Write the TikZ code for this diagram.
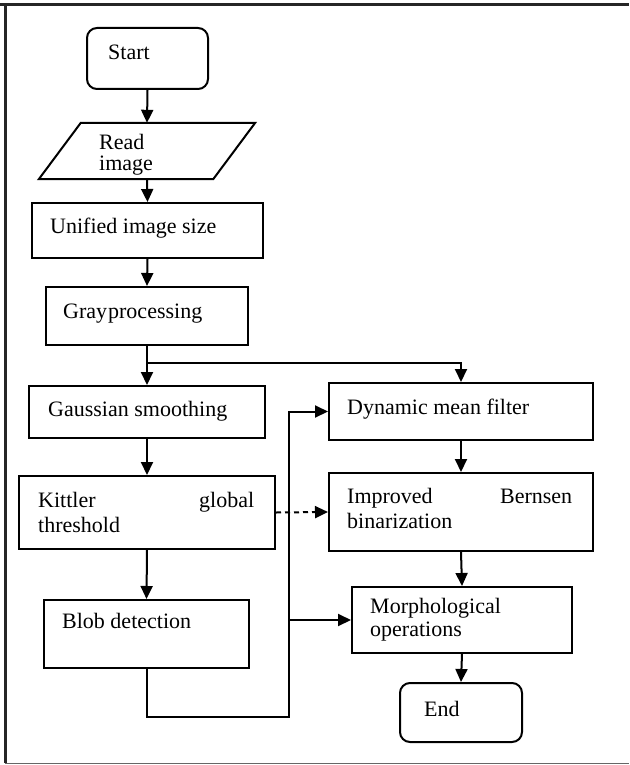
\documentclass[tikz,border=0pt]{standalone}
\usepackage{fontspec}
\setmainfont{Liberation Serif}
\usetikzlibrary{arrows.meta}
\newcommand\twoline[3]{\vtop{\baselineskip=#1\hbox{#2}\hbox{#3}}}
\begin{document}
\begin{tikzpicture}[x=1pt,y=-1pt,
  box/.style={draw, line width=2pt, inner sep=0pt},
  rbox/.style={box, rounded corners=10pt},
  lbl/.style={anchor=base west, inner sep=0pt, font=\fontsize{22}{24}\selectfont},
  arr/.style={line width=2pt, -{Triangle[length=13pt,width=12pt]}},
  dasharr/.style={arr, dash pattern=on 5pt off 4pt}]
\useasboundingbox (0,0) rectangle (629,765);
% frame
\draw[line width=3pt, black!85] (0,5) -- (629,5);
\draw[line width=2.5pt, black!85] (5.5,4) -- (5.5,763);
\draw[line width=1.2pt, black!60] (5,763.5) -- (629,763.5);

% boxes
\node[rbox, minimum width=121pt, minimum height=61pt] (start) at (147.5,58.5) {};
\node[inner sep=0pt, minimum width=132pt, minimum height=56pt] (read) at (147,151) {};
\draw[line width=2pt, line join=miter] (read.north west) -- ([xshift=42pt]read.north east) -- (read.south east) -- ([xshift=-42pt]read.south west) -- cycle;
\node[box, minimum width=231pt, minimum height=55pt] (unified) at (147.5,230.5) {};
\node[box, minimum width=202pt, minimum height=58pt] (gray) at (147,316) {};
\node[box, minimum width=236pt, minimum height=52pt] (gauss) at (147,412) {};
\node[box, minimum width=256pt, minimum height=73pt] (kittler) at (147,512.5) {};
\node[box, minimum width=205pt, minimum height=68pt] (blob) at (146.5,634) {};
\node[box, minimum width=264pt, minimum height=57pt] (dyn) at (461,411.5) {};
\node[box, minimum width=264pt, minimum height=78pt] (bern) at (461,512) {};
\node[box, minimum width=220pt, minimum height=66pt] (morph) at (462,620) {};
\node[rbox, minimum width=122pt, minimum height=59pt] (end) at (461,712.5) {};

% labels
\node[lbl] (tstart) at (108,60) {Start};
\node[lbl] (tread) at (99,149) {\twoline{21pt}{Read}{image}};
\node[lbl] (tunified) at (50,233) {Unified image size};
\node[lbl] (tgray) at (63,318) {Gray\hspace{1pt}processing};
\node[lbl] (tgauss) at (48,416) {Gaussian smoothing};
\node[lbl] (tkittler) at (38,507) {\twoline{25pt}{\hbox to 216pt{Kittler\hfill global}}{threshold}};
\node[lbl] (tblob) at (62,628) {Blob detection};
\node[lbl] (tdyn) at (347,414) {Dynamic mean filter};
\node[lbl] (tbern) at (347,503) {\twoline{25pt}{\hbox to 225pt{Improved\hfill Bernsen}}{binarization}};
\node[lbl] (tmorph) at (370,613) {\twoline{23pt}{Morphological}{operations}};
\node[lbl] (tend) at (424,716) {End};

% connectors
\coordinate (branch) at (147,363);
\coordinate (busbot) at (289,717);
\coordinate (busmid) at (289,620);
\draw[arr] (start.south) -- (read.north);
\draw[arr] (read.south) -- (unified.north);
\draw[arr] (unified.south) -- (gray.north);
\draw[arr] (gray.south) -- (gauss.north);
\draw[arr] (branch) -| (dyn.north);
\draw[arr] (gauss.south) -- (kittler.north);
\draw[arr] (kittler.south) -- (blob.north);
\draw[arr] (blob.south) |- (busbot) |- (dyn.west);
\draw[arr] (busmid) -- (morph.west);
\draw[dasharr] (kittler.east) -- (bern.west);
\draw[arr] (dyn.south) -- (bern.north);
\draw[arr] (bern.south) -- (morph.north);
\draw[arr] (morph.south) -- (end.north);
\end{tikzpicture}
\end{document}
